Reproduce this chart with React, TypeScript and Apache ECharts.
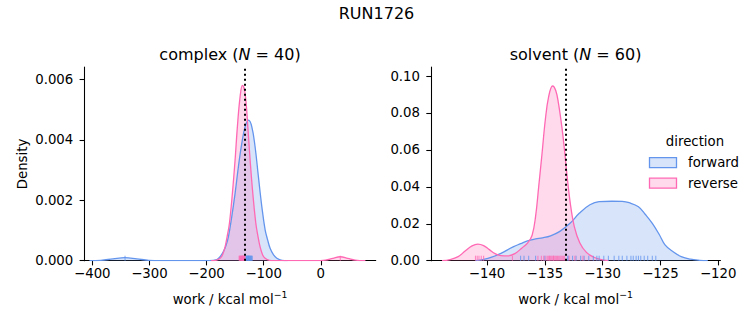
import React, { useEffect, useRef } from 'react';
import * as echarts from 'echarts';

const BLUE = '#6495ED';
const PINK = '#FF69B4';
const FONT = 'DejaVu Sans';

const suptitle = 'RUN1726';
const legendTitle = 'direction';
const directions = ['forward', 'reverse'];

// complex panel: KDE curves [work, density]
const complexForward: [number, number][] = [
  [-405, 0], [-385, 0.000014], [-364, 0.00006], [-343, 0.0001], [-322, 0.00006], [-301, 0.000014], [-280, 0],
  [-195, 0], [-182, 0.00004], [-176, 0.00014], [-170.6, 0.0003], [-166, 0.0005], [-161.8, 0.00079],
  [-155.9, 0.00146], [-150.1, 0.00223], [-144.3, 0.00311], [-138.4, 0.00388], [-132.6, 0.00443],
  [-126.5, 0.00465], [-120.8, 0.00443], [-115.1, 0.00377], [-109.3, 0.00278], [-103.3, 0.00179],
  [-97.5, 0.00102], [-93, 0.00068], [-88.8, 0.00041], [-83, 0.0002], [-77, 0.00008], [-68, 0.00001], [-58, 0],
];
const complexReverse: [number, number][] = [
  [-192, 0], [-184, 0.00001], [-176.4, 0.00008], [-172, 0.0002], [-167.6, 0.00046], [-164, 0.0008],
  [-160, 0.00124], [-154.8, 0.00223], [-150.1, 0.00333], [-146.1, 0.00443], [-141.3, 0.00543],
  [-137.3, 0.0058], [-132.6, 0.00554], [-127.8, 0.00443], [-123.8, 0.00333], [-119.1, 0.00223],
  [-113.8, 0.00124], [-110, 0.0008], [-106.3, 0.00046], [-102, 0.0002], [-97.5, 0.00008], [-90, 0.00001],
  [-82, 0], [-10, 0], [8, 0.00002], [21, 0.00008], [34, 0.00013], [47, 0.00008], [60, 0.00002], [78, 0],
];
const complexForwardRug = [-342.7, -131.2, -130.5, -130.0, -129.8, -129.0, -128.3, -127.6, -127.1, -126.9, -126.5,
  -125.8, -125.2, -124.6, -124.0, -123.3, -122.6, -121.8, -121.0, -120.2];
const complexReverseRug = [34, -143.0, -142.2, -141.4, -140.6, -139.9, -139.2, -138.6, -138.0, -137.9, -137.4,
  -136.8, -136.2, -136.0, -135.6, -135.0, -134.4, -133.9, -133.4, -132.9];

// solvent panel
const solventForward: [number, number][] = [
  [-141, 0], [-140.3, 0.0007], [-139.6, 0.0019], [-138.8, 0.004], [-137.7, 0.0076], [-137.1, 0.0092],
  [-136.5, 0.0108], [-135.8, 0.0118], [-135.2, 0.0124], [-134.5, 0.0135], [-133.7, 0.0159], [-132.8, 0.0204],
  [-132, 0.0258], [-131.1, 0.0303], [-130.3, 0.032], [-129.2, 0.0322], [-128.3, 0.0321], [-127.7, 0.0314],
  [-126.9, 0.0292], [-126.3, 0.025], [-125.7, 0.0202], [-125.1, 0.0142], [-124.6, 0.0086], [-123.9, 0.0048],
  [-123.2, 0.0022], [-122.4, 0.0008], [-121.6, 0.0002], [-120.9, 0],
];
const solventReverse: [number, number][] = [
  [-143.9, 0], [-143.2, 0.0006], [-142.5, 0.0022], [-141.9, 0.0052], [-141.3, 0.008], [-140.8, 0.009],
  [-140.3, 0.0082], [-139.8, 0.006], [-139.3, 0.0038], [-138.8, 0.0027], [-138.2, 0.0026], [-137.6, 0.0038],
  [-137.0, 0.0068], [-136.5, 0.0095], [-136.1, 0.0138], [-135.8, 0.024], [-135.53, 0.0402], [-135.24, 0.0582],
  [-134.96, 0.0762], [-134.67, 0.0888], [-134.33, 0.0946], [-134.05, 0.092], [-133.82, 0.0852],
  [-133.53, 0.0726], [-133.3, 0.06], [-133.1, 0.0474], [-132.8, 0.0312], [-132.45, 0.0185], [-131.97, 0.0096],
  [-131.4, 0.0045], [-130.8, 0.002], [-130.2, 0.0007], [-129.5, 0],
];
const solventForwardRug = [-137.1, -136.8, -136.4, -135.8, -135.0, -133.0, -132.6, -132.3, -131.9, -131.6,
  -131.2, -130.8, -130.5, -130.3, -129.9, -129.5, -129.0, -128.6, -128.3, -127.9, -127.55, -127.35, -127.1,
  -126.9, -126.7, -126.4, -126.1, -125.7, -125.4, -133.0];
const solventReverseRug = [-141.0, -140.85, -140.7, -140.5, -140.3, -137.8, -135.6, -135.3, -135.1, -134.9,
  -134.75, -134.65, -134.6, -134.5, -134.4, -134.3, -134.25, -134.2, -134.1, -134.0, -133.9, -133.8, -133.7,
  -133.6, -133.5, -133.4, -133.3, -132.9, -132.4, -131.7];

const freeEnergyEstimate = -133.2;

const complexXTicks = [-400, -300, -200, -100, 0];
const complexYTicks = [0, 0.002, 0.004, 0.006];
const solventXTicks = [-140, -135, -130, -125, -120];
const solventYTicks = [0, 0.02, 0.04, 0.06, 0.08, 0.1];

const minus = (s: string) => s.replace('-', '\u2212');

function kdeSeries(data: [number, number][], color: string, name: string, idx: number) {
  return {
    name,
    type: 'line',
    xAxisIndex: idx,
    yAxisIndex: idx,
    data,
    smooth: 0.4,
    symbol: 'none',
    lineStyle: { color, width: 1.3 },
    itemStyle: { color },
    areaStyle: { color, opacity: 0.25 },
    z: 2,
  };
}

function rugSeries(values: number[], color: string, idx: number) {
  return {
    type: 'scatter',
    xAxisIndex: idx,
    yAxisIndex: idx,
    data: values.map((v) => [v, 0]),
    symbol: 'rect',
    symbolSize: [1.1, 5],
    symbolOffset: [0, -2.5],
    itemStyle: { color, opacity: 0.75 },
    silent: true,
    z: 3,
  };
}

function xAxisDef(idx: number, min: number, max: number, ticks: number[]) {
  return {
    gridIndex: idx,
    type: 'value',
    min,
    max,
    axisLine: { show: true, onZero: false, lineStyle: { color: '#000', width: 1.07 } },
    axisTick: { show: true, length: 4.7, lineStyle: { color: '#000', width: 1.07 }, customValues: ticks },
    axisLabel: {
      customValues: ticks,
      formatter: (v: number) => minus(String(v)),
      color: '#000',
      fontSize: 13.3,
      fontFamily: FONT,
      margin: 6,
    },
    splitLine: { show: false },
  };
}

function yAxisDef(idx: number, max: number, ticks: number[], digits: number) {
  return {
    gridIndex: idx,
    type: 'value',
    min: 0,
    max,
    axisLine: { show: true, onZero: false, lineStyle: { color: '#000', width: 1.07 } },
    axisTick: { show: true, length: 4.7, lineStyle: { color: '#000', width: 1.07 }, customValues: ticks },
    axisLabel: {
      customValues: ticks,
      formatter: (v: number) => v.toFixed(digits),
      color: '#000',
      fontSize: 13.3,
      fontFamily: FONT,
      margin: 11,
    },
    splitLine: { show: false },
  };
}

function dottedLine(idx: number) {
  return {
    type: 'line',
    xAxisIndex: idx,
    yAxisIndex: idx,
    data: [],
    z: 10,
    markLine: {
      silent: true,
      symbol: ['none', 'none'],
      label: { show: false },
      lineStyle: { color: '#000', type: [2, 3], width: 2 },
      data: [{ xAxis: freeEnergyEstimate }],
      z: 10,
    },
  };
}

const xLabelRich = {
  a: { fontSize: 13.3, fontFamily: FONT, fill: '#000', lineHeight: 18 },
  b: { fontSize: 9.3, fontFamily: FONT, fill: '#000', verticalAlign: 'top', lineHeight: 10 },
};
const titleRich = {
  a: { fontSize: 16, fontFamily: FONT, fill: '#000' },
  i: { fontSize: 16, fontFamily: FONT, fill: '#000', fontStyle: 'italic' },
};

export default function App() {
  const ref = useRef<HTMLDivElement>(null);
  useEffect(() => {
    if (!ref.current) return;
    const chart = echarts.init(ref.current, undefined, { renderer: 'svg' });
    const legendItems: any[] = [];
    const colors = [BLUE, PINK];
    directions.forEach((d, i) => {
      const y = 157.7 + i * 20.5;
      legendItems.push({
        type: 'rect',
        shape: { x: 649.5, y, width: 27, height: 10 },
        style: { fill: colors[i], opacity: 1, stroke: colors[i], lineWidth: 1.3, fillOpacity: 0.25 } as any,
      });
      legendItems.push({
        type: 'text',
        x: 688,
        y: y + 5,
        style: { text: d, fontSize: 13.3, fontFamily: FONT, fill: '#000', align: 'left', verticalAlign: 'middle' },
      });
    });
    chart.setOption({
      animation: false,
      grid: [
        { left: 84.3, top: 67, width: 291.4, height: 193.7 },
        { left: 431, top: 67, width: 289.5, height: 193.7 },
      ],
      xAxis: [xAxisDef(0, -414, 96, complexXTicks), xAxisDef(1, -144.85, -119.8, solventXTicks)],
      yAxis: [yAxisDef(0, 0.00641, complexYTicks, 3), yAxisDef(1, 0.1049, solventYTicks, 2)],
      series: [
        kdeSeries(complexForward, BLUE, 'forward', 0),
        kdeSeries(complexReverse, PINK, 'reverse', 0),
        rugSeries(complexForwardRug, BLUE, 0),
        rugSeries(complexReverseRug, PINK, 0),
        dottedLine(0),
        kdeSeries(solventForward, BLUE, 'forward', 1),
        kdeSeries(solventReverse, PINK, 'reverse', 1),
        rugSeries(solventForwardRug, BLUE, 1),
        rugSeries(solventReverseRug, PINK, 1),
        dottedLine(1),
      ],
      graphic: [
        {
          type: 'text', x: 376.5, y: 13,
          style: { text: suptitle, fontSize: 16, fontFamily: FONT, fill: '#000', align: 'center', verticalAlign: 'middle' },
        },
        {
          type: 'text', x: 230, y: 54,
          style: { text: '{a|complex (}{i|N}{a| = 40)}', rich: titleRich, align: 'center', verticalAlign: 'middle' },
        },
        {
          type: 'text', x: 575.5, y: 54,
          style: { text: '{a|solvent (}{i|N}{a| = 60)}', rich: titleRich, align: 'center', verticalAlign: 'middle' },
        },
        {
          type: 'text', x: 22, y: 164, rotation: Math.PI / 2,
          style: { text: 'Density', fontSize: 13.3, fontFamily: FONT, fill: '#000', align: 'center', verticalAlign: 'middle' },
        },
        {
          type: 'text', x: 230, y: 299,
          style: { text: '{a|work / kcal mol}{b|\u22121}', rich: xLabelRich, align: 'center', verticalAlign: 'middle' },
        },
        {
          type: 'text', x: 575.5, y: 299,
          style: { text: '{a|work / kcal mol}{b|\u22121}', rich: xLabelRich, align: 'center', verticalAlign: 'middle' },
        },
        {
          type: 'text', x: 695, y: 141,
          style: { text: legendTitle, fontSize: 13.3, fontFamily: FONT, fill: '#000', align: 'center', verticalAlign: 'middle' },
        },
        ...legendItems,
      ],
    });
    return () => chart.dispose();
  }, []);
  return <div ref={ref} style={{ position: 'absolute', left: 0, top: 0, width: 753, height: 325 }} />;
}
